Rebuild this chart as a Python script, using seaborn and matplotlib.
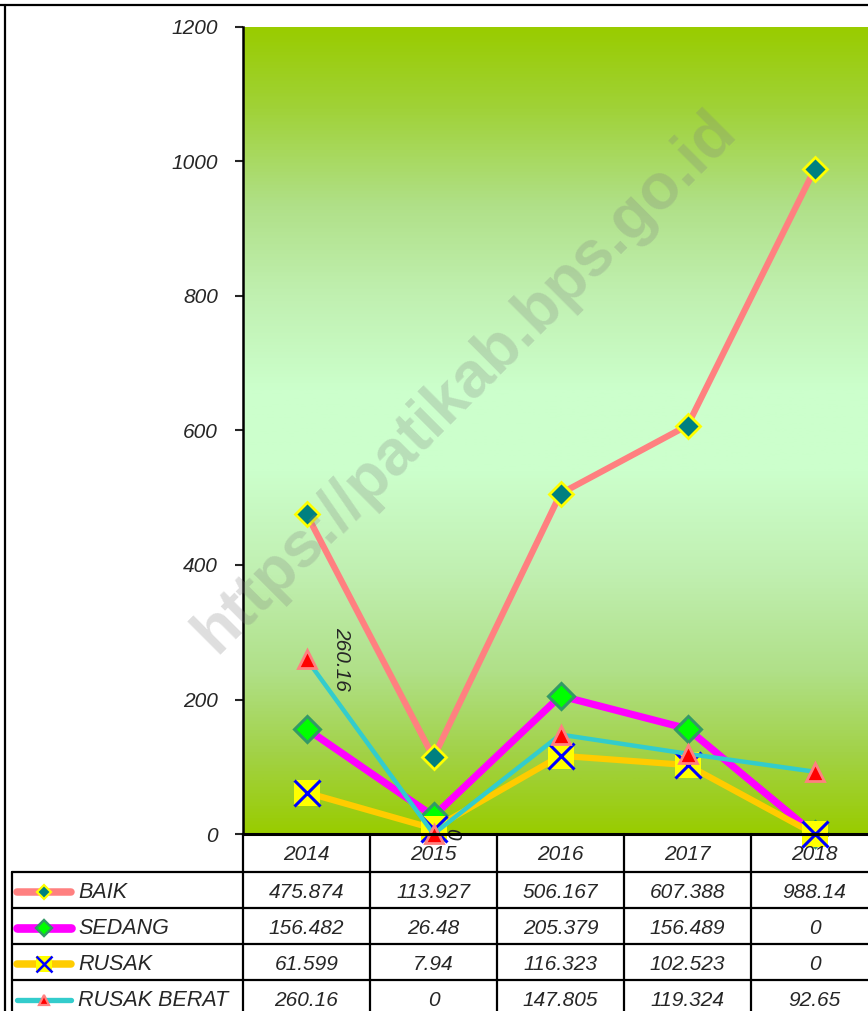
import matplotlib
matplotlib.use("Agg")
import matplotlib.pyplot as plt
from matplotlib.lines import Line2D
from matplotlib.colors import LinearSegmentedColormap
import matplotlib.transforms as mtransforms
import seaborn as sns
import pandas as pd
import numpy as np

# data
years = ["2014", "2015", "2016", "2017", "2018"]
baik = [475.874, 113.927, 506.167, 607.388, 988.14]
sedang = [156.482, 26.48, 205.379, 156.489, 0]
rusak = [61.599, 7.94, 116.323, 102.523, 0]
rusak_berat = [260.16, 0, 147.805, 119.324, 92.65]
series_names = ["BAIK", "SEDANG", "RUSAK", "RUSAK BERAT"]

sns.set_style("white")
plt.rcParams["font.family"] = ["Liberation Sans", "DejaVu Sans"]

W, H = 868, 1011
fig = plt.figure(figsize=(W / 100, H / 100), dpi=100)


def fx(px):
    return px / W


def fy(py):
    return 1 - py / H


ax = fig.add_axes([fx(243), fy(834), fx(868) - fx(243), fy(27) - fy(834)])

# gradient background (green -> pale green -> green)
cmap = LinearSegmentedColormap.from_list("bg", [
    (0.0, "#99cc00"), (0.1, "#a0d238"), (0.22, "#b0e088"), (0.33, "#c0f0b0"),
    (0.45, "#ccffcc"), (0.55, "#ccffcc"), (0.68, "#c0efb0"), (0.8, "#b0e088"),
    (0.9, "#a2d248"), (1.0, "#99cc00")])
grad = np.linspace(0, 1, 512)[:, None]
ax.imshow(grad, cmap=cmap, aspect="auto", extent=[-0.5, 4.421, 0, 1200],
          origin="upper", zorder=0)

df = pd.DataFrame({"year": list(range(5)) * 4,
                   "value": baik + sedang + rusak + rusak_berat,
                   "series": sum([[s] * 5 for s in series_names], [])})

styles = {
    "BAIK": dict(color="#ff8080", lw=4.5, marker="D", ms=12.5, mfc="#008080", mec="#ffff00", mew=2.0),
    "SEDANG": dict(color="#ff00ff", lw=5.2, marker="D", ms=13, mfc="#00ff00", mec="#339966", mew=2.2),
    "RUSAK": dict(color="#ffcc00", lw=4.5, marker="s", ms=19, mfc="#ffff00", mec="#ffff00", mew=0),
    "RUSAK BERAT": dict(color="#33cccc", lw=3.2, marker="^", ms=13, mfc="#ff0000", mec="#ff8080", mew=2.0),
}

for i, name in enumerate(series_names):
    st = styles[name]
    sub = df[df["series"] == name]
    sns.lineplot(data=sub, x="year", y="value", ax=ax, color=st["color"], lw=st["lw"],
                 marker=st["marker"], markersize=st["ms"], markerfacecolor=st["mfc"],
                 markeredgecolor=st["mec"], markeredgewidth=st["mew"], zorder=2 + i,
                 clip_on=False, legend=False)
    if name == "RUSAK":
        ax.plot(sub["year"], sub["value"], ls="none", marker="x", ms=19, mew=2.2,
                color="#0000ff", zorder=2 + i, clip_on=False)

# data labels of RUSAK BERAT
lbl = dict(rotation=270, ha="center", va="center", fontsize=15, style="italic", zorder=10)
ax.annotate(f"{rusak_berat[0]:g}", (0, rusak_berat[0]), xytext=(25, 0), textcoords="offset points", **lbl)
ax.annotate(f"{rusak_berat[1]:g}", (1, rusak_berat[1]), xytext=(13, 0), textcoords="offset points",
            annotation_clip=False, **lbl)

ax.set_xlim(-0.5, 4.421)
ax.set_ylim(0, 1200)
ax.set_yticks(range(0, 1201, 200))
ax.set_yticklabels([str(v) for v in range(0, 1201, 200)], fontsize=15, style="italic")
ax.set_xticks([])
ax.set_xlabel("")
ax.set_ylabel("")
ax.tick_params(axis="y", left=True, length=6, width=1.5, direction="out", pad=12)
for s in ["top", "right"]:
    ax.spines[s].set_visible(False)
ax.spines["left"].set_linewidth(1.8)
ax.spines["bottom"].set_linewidth(2.2)
for s in ["left", "bottom"]:
    ax.spines[s].set_color("black")
    ax.spines[s].set_zorder(20)

# data table under the chart
trans = mtransforms.blended_transform_factory(ax.transData, fig.transFigure)
row_y = [834, 872, 908, 944, 980, 1016]
for xe in [-0.5, 0.5, 1.5, 2.5, 3.5]:
    fig.add_artist(Line2D([xe, xe], [fy(834), fy(1011)], transform=trans, color="black", lw=1.6))
for py in row_y[1:-1]:
    fig.add_artist(Line2D([fx(12), 1], [fy(py), fy(py)], transform=fig.transFigure, color="black", lw=1.6))
fig.add_artist(Line2D([fx(12), fx(12)], [fy(872), 0], transform=fig.transFigure, color="black", lw=1.6))
# outer border
fig.add_artist(Line2D([0, 1], [fy(5), fy(5)], transform=fig.transFigure, color="black", lw=1.6))
fig.add_artist(Line2D([fx(5), fx(5)], [fy(5), 0], transform=fig.transFigure, color="black", lw=1.6))

for j, yr in enumerate(years):
    fig.text(j, fy(854), yr, transform=trans, ha="center", va="center", fontsize=15, style="italic")

all_vals = [baik, sedang, rusak, rusak_berat]
for i, name in enumerate(series_names):
    yc = fy((row_y[i + 1] + row_y[i + 2]) / 2 + 2)
    st = styles[name]
    fig.add_artist(Line2D([fx(17), fx(71)], [yc, yc], transform=fig.transFigure,
                          color=st["color"], lw=st["lw"] * 1.2))
    mscale = 0.6
    fig.add_artist(Line2D([fx(44)], [yc], transform=fig.transFigure, ls="none",
                          marker=st["marker"], ms=st["ms"] * mscale, mfc=st["mfc"],
                          mec=st["mec"], mew=st["mew"] * 0.8))
    if name == "RUSAK":
        fig.add_artist(Line2D([fx(44)], [yc], transform=fig.transFigure, ls="none",
                              marker="x", ms=19 * mscale, mew=1.8, color="#0000ff"))
    fig.text(fx(78), yc, name, ha="left", va="center", fontsize=15.5, style="italic")
    for j, v in enumerate(all_vals[i]):
        fig.text(j, yc, f"{v:g}", transform=trans, ha="center", va="center",
                 fontsize=15, style="italic")

# watermark
fig.text(fx(465), fy(382), "https://patikab.bps.go.id", rotation=45, ha="center", va="center",
         fontsize=46, fontweight="bold", color="#808080", alpha=0.26, zorder=30)

fig.savefig("out.png", dpi=100)
